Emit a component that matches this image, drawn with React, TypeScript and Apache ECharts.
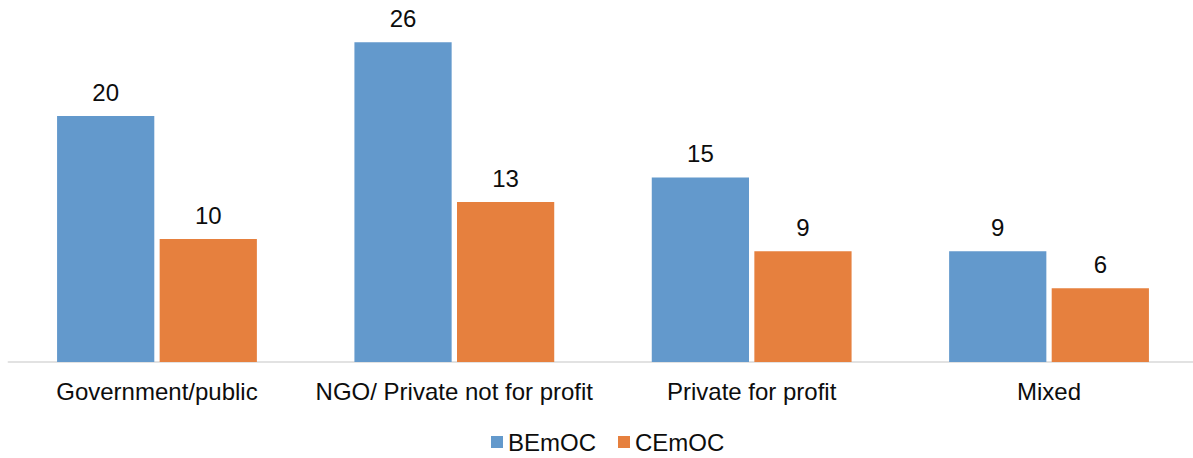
import React, { useEffect, useRef } from "react";
import * as echarts from "echarts";

const categories = ["Government/public", "NGO/ Private not for profit", "Private for profit", "Mixed"];
const bemoc = [20, 26, 15, 9];
const cemoc = [10, 13, 9, 6];
const seriesNames = ["BEmOC", "CEmOC"];

const FONT = "'Liberation Sans', Arial, sans-serif";

export default function App() {
  const ref = useRef<HTMLDivElement>(null);
  useEffect(() => {
    if (!ref.current) return;
    const chart = echarts.init(ref.current, undefined, { renderer: "svg" });
    const label = {
      show: true,
      position: "top",
      distance: 12,
      fontSize: 24,
      fontFamily: FONT,
      color: "#0d0d0d",
    };
    chart.setOption({
      animation: false,
      textStyle: { fontFamily: FONT },
      grid: { left: 8.3, top: 17.6, width: 1189.4, height: 344.4, containLabel: false },
      legend: {
        data: seriesNames,
        left: 491,
        top: 430,
        padding: 0,
        itemWidth: 12,
        itemHeight: 12,
        itemGap: 22,
        icon: "rect",
        textStyle: { fontSize: 24, fontFamily: FONT, color: "#0d0d0d", padding: [0, 0, 0, 0] },
      },
      xAxis: {
        type: "category",
        data: categories,
        axisLine: { show: true, lineStyle: { color: "#d9d9d9", width: 1.5 } },
        axisTick: { show: false },
        axisLabel: { interval: 0, margin: 17, fontSize: 24, fontFamily: FONT, color: "#0d0d0d" },
      },
      yAxis: {
        type: "value",
        min: 0,
        max: 28,
        show: false,
        splitLine: { show: false },
      },
      series: [
        {
          name: seriesNames[0],
          type: "bar",
          data: bemoc,
          barWidth: "32.7%",
          barGap: "5.5%",
          itemStyle: { color: "#6399CC" },
          label,
        },
        {
          name: seriesNames[1],
          type: "bar",
          data: cemoc,
          barWidth: "32.7%",
          barGap: "5.5%",
          itemStyle: { color: "#E6803E" },
          label,
        },
      ],
    });
    return () => chart.dispose();
  }, []);
  return (
    <div style={{ position: "absolute", left: 0, top: 0, width: 1193, height: 458, overflow: "hidden", background: "#fff" }}>
      <div ref={ref} style={{ position: "absolute", left: 0, top: 0, width: 1200, height: 458 }} />
    </div>
  );
}
